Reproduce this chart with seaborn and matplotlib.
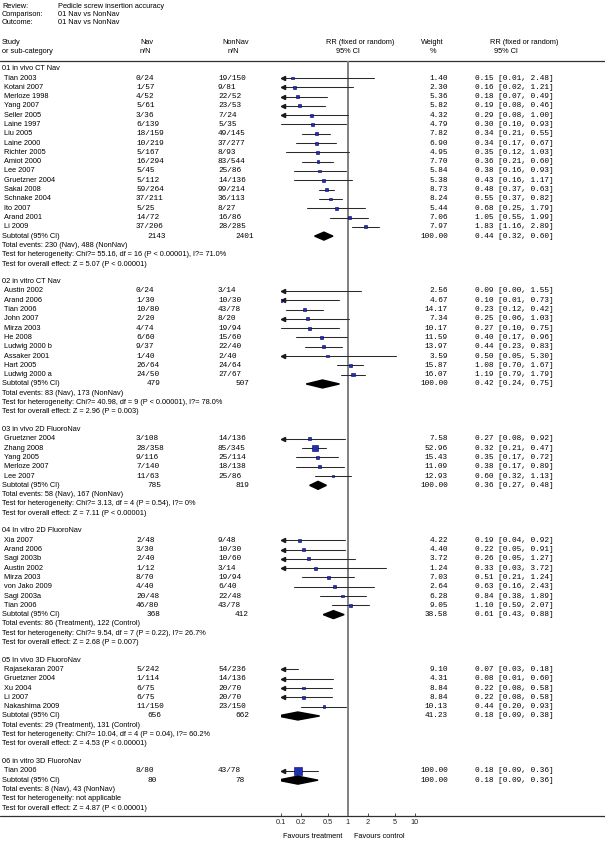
import matplotlib
matplotlib.use("Agg")
import numpy as np
import pandas as pd
import seaborn as sns
import matplotlib.pyplot as plt
from matplotlib import transforms
from matplotlib.patches import Polygon

# ---- datos ----
group_names = ["01 in vivo CT Nav", "02 in vitro CT Nav", "03 in vivo 2D FluoroNav",
               "04 In vitro 2D FluoroNav", "05 In vivo 3D FluoroNav", "06 in vitro 3D FluoroNav"]
group_sizes = [17, 10, 5, 8, 5, 1]

study = ["Tian 2003", "Kotani 2007", "Merloze 1998", "Yang 2007", "Seller 2005", "Laine 1997",
         "Liu 2005", "Laine 2000", "Richter 2005", "Amiot 2000", "Lee 2007", "Gruetzner 2004",
         "Sakai 2008", "Schnake 2004", "Ito 2007", "Arand 2001", "Li 2009",
         "Austin 2002", "Arand 2006", "Tian 2006", "John 2007", "Mirza 2003", "He 2008",
         "Ludwig 2000 b", "Assaker 2001", "Hart 2005", "Ludwig 2000 a",
         "Gruetzner 2004", "Zhang 2008", "Yang 2005", "Merloze 2007", "Lee 2007",
         "Xia 2007", "Arand 2006", "Sagi 2003b", "Austin 2002", "Mirza 2003", "von Jako 2009",
         "Sagi 2003a", "Tian 2006",
         "Rajasekaran 2007", "Gruetzner 2004", "Xu 2004", "Li 2007", "Nakashima 2009",
         "Tian 2006"]
nav_e = [0, 1, 4, 5, 3, 6, 18, 10, 5, 16, 5, 5, 59, 37, 5, 14, 37,
         0, 1, 10, 2, 4, 6, 9, 1, 26, 24,
         3, 28, 9, 7, 11,
         2, 3, 2, 1, 8, 4, 20, 46,
         5, 1, 6, 6, 11,
         8]
nav_n = [24, 57, 52, 61, 36, 139, 159, 219, 167, 294, 45, 112, 264, 211, 25, 72, 206,
         24, 30, 80, 20, 74, 60, 37, 40, 64, 50,
         108, 358, 116, 140, 63,
         48, 30, 40, 12, 70, 40, 48, 80,
         242, 114, 75, 75, 150,
         80]
non_e = [19, 9, 22, 23, 7, 5, 49, 37, 8, 83, 25, 14, 99, 36, 8, 16, 28,
         3, 10, 43, 8, 19, 15, 22, 2, 24, 27,
         14, 85, 25, 18, 25,
         9, 10, 10, 3, 19, 6, 22, 43,
         54, 14, 20, 20, 23,
         43]
non_n = [150, 81, 52, 53, 24, 35, 145, 277, 93, 544, 86, 136, 214, 113, 27, 86, 285,
         14, 30, 78, 20, 94, 60, 40, 40, 64, 67,
         136, 345, 114, 138, 86,
         48, 30, 60, 14, 94, 40, 48, 78,
         236, 136, 70, 70, 150,
         78]
weight = [1.40, 2.30, 5.36, 5.82, 4.32, 4.79, 7.82, 6.90, 4.95, 7.70, 5.84, 5.38, 8.73, 8.24,
          5.44, 7.06, 7.97,
          2.56, 4.67, 14.17, 7.34, 10.17, 11.59, 13.97, 3.59, 15.87, 16.07,
          7.58, 52.96, 15.43, 11.09, 12.93,
          4.22, 4.40, 3.72, 1.24, 7.03, 2.64, 6.28, 9.05,
          9.10, 4.31, 8.84, 8.84, 10.13,
          100.00]
rr = [0.15, 0.16, 0.18, 0.19, 0.29, 0.30, 0.34, 0.34, 0.35, 0.36, 0.38, 0.43, 0.48, 0.55,
      0.68, 1.05, 1.83,
      0.09, 0.10, 0.23, 0.25, 0.27, 0.40, 0.44, 0.50, 1.08, 1.19,
      0.27, 0.32, 0.35, 0.38, 0.60,
      0.19, 0.22, 0.26, 0.33, 0.51, 0.63, 0.84, 1.10,
      0.07, 0.08, 0.22, 0.22, 0.44,
      0.18]
lo = [0.01, 0.02, 0.07, 0.08, 0.08, 0.10, 0.21, 0.17, 0.12, 0.21, 0.16, 0.16, 0.37, 0.37,
      0.25, 0.55, 1.16,
      0.00, 0.01, 0.12, 0.06, 0.10, 0.17, 0.23, 0.05, 0.70, 0.79,
      0.08, 0.21, 0.17, 0.17, 0.32,
      0.04, 0.05, 0.05, 0.03, 0.21, 0.16, 0.38, 0.59,
      0.03, 0.01, 0.08, 0.08, 0.20,
      0.09]
hi = [2.48, 1.21, 0.49, 0.46, 1.00, 0.93, 0.55, 0.67, 1.03, 0.60, 0.93, 1.17, 0.63, 0.82,
      1.79, 1.99, 2.89,
      1.55, 0.73, 0.42, 1.03, 0.75, 0.96, 0.83, 5.30, 1.67, 1.79,
      0.92, 0.47, 0.72, 0.89, 1.13,
      0.92, 0.91, 1.27, 3.72, 1.24, 2.43, 1.89, 2.07,
      0.18, 0.60, 0.58, 0.58, 0.93,
      0.36]

sub_nav_n = [2143, 479, 785, 368, 656, 80]
sub_non_n = [2401, 507, 819, 412, 662, 78]
sub_weight = [100.00, 100.00, 100.00, 38.58, 41.23, 100.00]
sub_rr = [0.44, 0.42, 0.36, 0.61, 0.18, 0.18]
sub_lo = [0.32, 0.24, 0.27, 0.43, 0.09, 0.09]
sub_hi = [0.60, 0.75, 0.48, 0.88, 0.38, 0.36]
tot_nav = [230, 83, 58, 86, 29, 8]
tot_non = [488, 173, 167, 122, 131, 43]
tot_labels = [("Nav", "NonNav")] * 3 + [("Treatment", "Control")] * 2 + [("Nav", "NonNav")]
chi2 = [55.16, 40.98, 3.13, 9.54, 10.04, None]
het_df = [16, 9, 4, 7, 4, None]
het_p = ["P < 0.00001", "P < 0.00001", "P = 0.54", "P = 0.22", "P = 0.04", None]
i2 = ["71.0%", "78.0%", "0%", "26.7%", "60.2%", None]
z_val = [5.07, 2.96, 7.11, 2.68, 4.53, 4.87]
z_p = ["P < 0.00001", "P = 0.003", "P < 0.00001", "P = 0.007", "P < 0.00001", "P < 0.00001"]

ticks = [0.1, 0.2, 0.5, 1, 2, 5, 10]
tick_labels = ["0.1", "0.2", "0.5", "1", "2", "5", "10"]

# ---- figura ----
sns.set_theme(style="white")
plt.rcParams['font.family'] = ['Liberation Sans', 'DejaVu Sans']
SANS = 5.3
MONO = 5.6
mono = "Liberation Mono"

W, H = 605, 842
fig = plt.figure(figsize=(W / 100, H / 100), dpi=100)
x0, x1 = 280.7, 415.0
ytop, ybot = 61, 816
ax = fig.add_axes([x0 / W, 1 - ybot / H, (x1 - x0) / W, (ybot - ytop) / H])

tr = transforms.blended_transform_factory(fig.transFigure, ax.transData)


def txt(xp, y, s, mono_font=False, **kw):
    kw.setdefault("va", "center")
    if mono_font:
        kw.setdefault("family", mono)
        kw.setdefault("fontsize", MONO)
    else:
        kw.setdefault("fontsize", SANS)
    ax.text(xp / W, y, s, transform=tr, color="black", **kw)


# posiciones de filas (en pixeles)
step = 9.3
gap = 1.9
y = 78 - step
study_y = []
rows = []
k = 0
for g, n in enumerate(group_sizes):
    rows.append(("head", g, y))
    for i in range(n):
        y += step
        study_y.append(y)
        rows.append(("study", k, y))
        k += 1
    y += step
    rows.append(("sub", g, y))
    for t in ("tot", "het", "z"):
        y += step
        rows.append((t, g, y))
    y += gap * step

# cuadrados con seaborn
side = np.maximum(2.8, 0.8 * np.sqrt(np.array(weight)))
df = pd.DataFrame({"rr": rr, "y": study_y, "s": (side * 0.72) ** 2})
sns.scatterplot(data=df, x="rr", y="y", s=df["s"].to_numpy(), marker="s",
                color="#1f2fb4", edgecolor="#000060", linewidth=0.4,
                legend=False, ax=ax, zorder=4)
ax.set_xscale("log")
ax.set_xlim(0.1, 10)
ax.set_ylim(ybot, ytop)
ax.set_xlabel("")
ax.set_ylabel("")

arrow_x = 0.1 * 10 ** (2.0 / 67.1)
for i in range(len(study)):
    yy = study_y[i]
    a = max(lo[i], 0.1)
    ax.plot([a, hi[i]], [yy, yy], color="#2a2a2a", lw=0.75, zorder=3)
    if lo[i] < 0.1:
        ax.plot(arrow_x, yy, marker="<", markersize=3, color="#1a1a1a",
                clip_on=False, zorder=3)

for kind, idx, yy in rows:
    if kind == "head":
        txt(1.5, yy, group_names[idx])
    elif kind == "study":
        txt(4, yy, study[idx])
        txt(136, yy, f"{nav_e[idx]}/{nav_n[idx]}", mono_font=True)
        txt(218, yy, f"{non_e[idx]}/{non_n[idx]}", mono_font=True)
        txt(448, yy, f"{weight[idx]:.2f}", mono_font=True, ha="right")
        txt(475, yy, f"{rr[idx]:.2f} [{lo[idx]:.2f}, {hi[idx]:.2f}]", mono_font=True)
    elif kind == "sub":
        txt(2, yy, "Subtotal (95% CI)")
        txt(147, yy, f"{sub_nav_n[idx]}", mono_font=True)
        txt(235, yy, f"{sub_non_n[idx]}", mono_font=True)
        txt(448, yy, f"{sub_weight[idx]:.2f}", mono_font=True, ha="right")
        txt(475, yy, f"{sub_rr[idx]:.2f} [{sub_lo[idx]:.2f}, {sub_hi[idx]:.2f}]", mono_font=True)
        h = 4.0
        ax.add_patch(Polygon([(sub_lo[idx], yy), (sub_rr[idx], yy - h),
                              (sub_hi[idx], yy), (sub_rr[idx], yy + h)],
                             closed=True, color="black", zorder=4))
    elif kind == "tot":
        a, b = tot_labels[idx]
        txt(2, yy, f"Total events: {tot_nav[idx]} ({a}), {tot_non[idx]} ({b})")
    elif kind == "het":
        if chi2[idx] is None:
            txt(2, yy, "Test for heterogeneity: not applicable")
        else:
            txt(2, yy, f"Test for heterogeneity: Chi?= {chi2[idx]:.2f}, df = {het_df[idx]} "
                       f"({het_p[idx]}), I?= {i2[idx]}")
    elif kind == "z":
        txt(2, yy, f"Test for overall effect: Z = {z_val[idx]:.2f} ({z_p[idx]})")

# cabecera
txt(2, 6, "Review:")
txt(58, 6, "Pedicle screw insertion accuracy")
txt(2, 14.5, "Comparison:")
txt(58, 14.5, "01 Nav vs NonNav")
txt(2, 23, "Outcome:")
txt(58, 23, "01 Nav vs NonNav")
txt(2, 42, "Study")
txt(2, 51.5, "or sub-category")
txt(140, 42, "Nav")
txt(140, 51.5, "n/N")
txt(222, 42, "NonNav")
txt(228, 51.5, "n/N")
txt(326, 42, "RR (fixed or random)")
txt(336, 51.5, "95% CI")
txt(421, 42, "Weight")
txt(430, 51.5, "%")
txt(490, 42, "RR (fixed or random)")
txt(494, 51.5, "95% CI")

# lineas
for yl in (ytop, ybot):
    ax.plot([0, 1], [yl, yl], transform=tr, color="#303030", lw=0.9, clip_on=False)
ax.axvline(1, color="#808080", lw=1.4, zorder=2)

for sp in ax.spines.values():
    sp.set_visible(False)
ax.set_yticks([])
ax.set_xticks(ticks)
ax.set_xticklabels(tick_labels)
ax.xaxis.set_minor_locator(matplotlib.ticker.NullLocator())
ax.tick_params(axis="x", direction="in", length=2, width=0.6, pad=2,
               labelsize=SANS, bottom=True, color="#303030")

txt(342, 836, "Favours treatment", ha="right")
txt(354, 836, "Favours control", ha="left")

fig.savefig("out.png", dpi=100)
